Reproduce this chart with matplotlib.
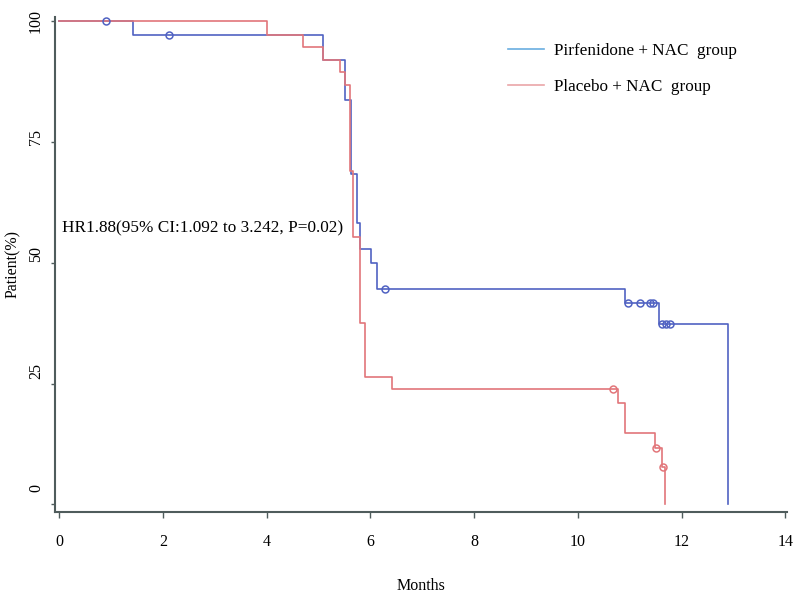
import matplotlib
matplotlib.use("Agg")
import matplotlib.pyplot as plt
import matplotlib.transforms as mtransforms
from matplotlib.lines import Line2D

plt.rcParams['font.family'] = ['Liberation Serif', 'DejaVu Serif']

# Kaplan-Meier steps (months, patient %)
pirf_t = [0, 1.42, 5.09, 5.51, 5.62, 5.74, 5.80, 6.02, 6.12, 10.91, 11.57, 12.90]
pirf_s = [100, 97.1, 91.8, 83.6, 68.2, 58.2, 52.9, 50.0, 44.5, 41.6, 37.2, 0]
pirf_cens_t = [0.90, 2.12, 6.28, 10.97, 11.20, 11.39, 11.45, 11.62, 11.70, 11.78]
pirf_cens_s = [100, 97.1, 44.5, 41.6, 41.6, 41.6, 41.6, 37.2, 37.2, 37.2]

plac_t = [0, 4.00, 4.71, 5.09, 5.41, 5.51, 5.60, 5.67, 5.80, 5.90, 6.41, 10.78, 10.91, 11.49, 11.62, 11.68]
plac_s = [100, 97.1, 94.6, 91.8, 89.4, 86.7, 69.0, 55.3, 37.6, 26.4, 23.8, 20.9, 14.8, 11.6, 7.8, 0]
plac_cens_t = [10.68, 11.50, 11.64]
plac_cens_s = [23.8, 11.6, 7.8]

x_ticks = [0, 2, 4, 6, 8, 10, 12, 14]
y_ticks = [0, 25, 50, 75, 100]
labels = ['Pirfenidone + NAC  group', 'Placebo + NAC  group']
hr_text = 'HR1.88(95% CI:1.092 to 3.242, P=0.02)'

blue = '#5062c2'
red = '#e2767a'
axis_col = '#4f5c5c'

fig = plt.figure(figsize=(8, 5.95), dpi=100)
ax = fig.add_axes([0.06875, 0.1395, 0.915, 0.8324])

ax.step(pirf_t, pirf_s, where='post', color=blue, lw=1.2)
ax.step(plac_t, plac_s, where='post', color=red, lw=1.2)
ax.plot(pirf_cens_t, pirf_cens_s, 'o', ms=5, mfc='none', mec=blue, mew=1.1)
ax.plot(plac_cens_t, plac_cens_s, 'o', ms=5, mfc='none', mec=red, mew=1.1)

ax.set_xlim(-0.08, 14.03)
ax.set_ylim(-1.55, 100.8)
ax.set_xticks(x_ticks)
ax.set_yticks(y_ticks)
ax.set_yticklabels([str(v) for v in y_ticks], rotation=90, va='center')

for s in ['top', 'right']:
    ax.spines[s].set_visible(False)
for s in ['left', 'bottom']:
    ax.spines[s].set_color(axis_col)
    ax.spines[s].set_linewidth(1.5)

ax.tick_params(axis='x', direction='out', length=4, width=1, color=axis_col,
               labelsize=11.5, pad=12)
ax.tick_params(axis='y', direction='out', length=3, width=1, color=axis_col,
               labelsize=11.5, pad=5)

ax.set_xlabel('Months', fontsize=11.5, labelpad=20)
ax.set_ylabel('Patient(%)', fontsize=11.5)
ax.yaxis.set_label_coords(-0.047, 0.5)

# the y tick labels sit a little above their ticks in the original
for v, lab in zip(y_ticks, ax.get_yticklabels()):
    off = mtransforms.ScaledTranslation(0, (100 - v) * 0.165 / 100, fig.dpi_scale_trans)
    lab.set_transform(lab.get_transform() + off)

ax.text(0.05, 57.1, hr_text, fontsize=12.4, ha='left', va='center')

handles = [Line2D([], [], color='#6aaee0', lw=1.2),
           Line2D([], [], color='#eaa6a8', lw=1.2)]
ax.legend(handles, labels, loc='upper left', bbox_to_anchor=(0.619, 0.947),
          frameon=False, fontsize=12.3, handlelength=2.1, handletextpad=0.6,
          labelspacing=1.2, borderpad=0, borderaxespad=0)

fig.savefig('out.png', dpi=100)
